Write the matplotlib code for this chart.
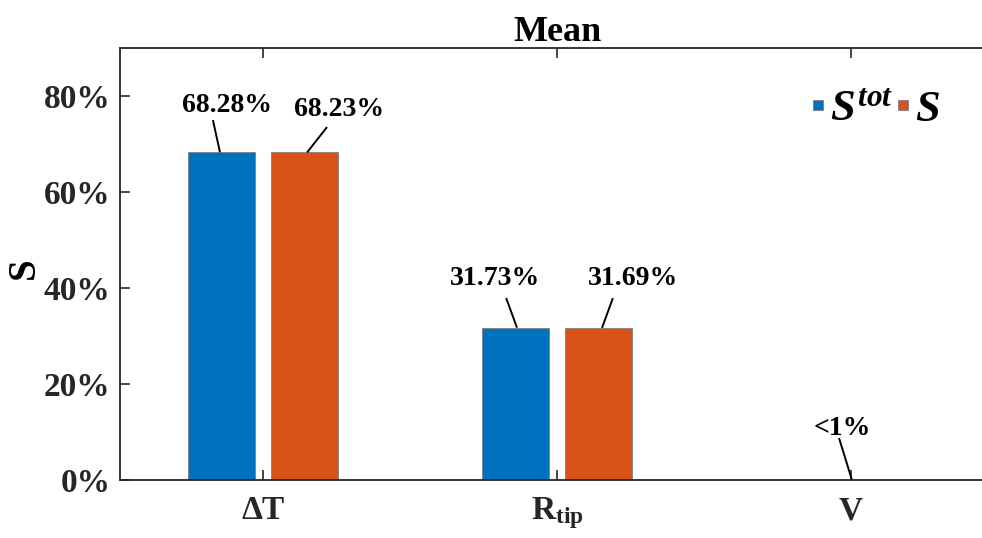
import matplotlib.pyplot as plt
from matplotlib.lines import Line2D
import numpy as np

plt.rcParams['font.family'] = ['Liberation Serif', 'DejaVu Serif']
plt.rcParams['font.weight'] = 'bold'
plt.rcParams['mathtext.fontset'] = 'custom'
plt.rcParams['mathtext.rm'] = 'Liberation Serif:bold'
plt.rcParams['mathtext.it'] = 'Liberation Serif:bold:italic'
plt.rcParams['mathtext.bf'] = 'Liberation Serif:bold'

categories = ['ΔT', r'R$_{\rm tip}$', 'V']
s_tot = [68.28, 31.73, 0.05]
s_first = [68.23, 31.69, 0.04]
labels_tot = ['68.28%', '31.73%', '<1%']
labels_first = ['68.23%', '31.69%', None]

blue = '#0072BD'
orange = '#D95319'
dark = '#262626'

fig = plt.figure(figsize=(9.82, 5.38), dpi=100)
ax = fig.add_axes([120 / 982, 58 / 538, 874 / 982, 432 / 538])

x = np.arange(1, len(categories) + 1)
w = 0.228
off = 0.142
b1 = ax.bar(x - off, s_tot, w, color=blue, edgecolor='#7f7f7f', linewidth=0.6)
b2 = ax.bar(x + off, s_first, w, color=orange, edgecolor='#7f7f7f', linewidth=0.6)

ax.set_xlim(0.514, 3.486)
ax.set_ylim(0, 90)
ax.set_yticks([0, 20, 40, 60, 80])
ax.set_yticklabels(['0%', '20%', '40%', '60%', '80%'])
ax.set_xticks(x)
ax.set_xticklabels(categories)
ax.tick_params(direction='in', length=7, width=1.2, colors=dark, labelsize=24,
               top=True)
ax.tick_params(axis='y', pad=7)
ax.tick_params(axis='x', pad=11)
for lab in ax.get_xticklabels() + ax.get_yticklabels():
    lab.set_fontweight('bold')
    lab.set_color(dark)
for side in ['left', 'top', 'bottom']:
    ax.spines[side].set_color(dark)
    ax.spines[side].set_linewidth(1.3)
ax.spines['right'].set_visible(False)

ax.set_title('Mean', fontsize=26, fontweight='bold', pad=5)
ax.set_ylabel('S', fontsize=28, fontweight='bold')
ax.yaxis.set_label_coords(-0.088, 0.49)

# label text offset (dx, dy), line top offset (dx, dy), line foot dx
ann = [
    (x[0] - off, s_tot[0], labels_tot[0], (0.021, 8.3), (-0.028, 6.7), -0.004),
    (x[0] + off, s_first[0], labels_first[0], (0.117, 7.6), (0.076, 5.3), 0.008),
    (x[1] - off, s_tot[1], labels_tot[1], (-0.069, 8.9), (-0.031, 6.2), 0.006),
    (x[1] + off, s_first[1], labels_first[1], (0.117, 8.9), (0.048, 6.2), 0.011),
    (x[2], 0, labels_tot[2], (-0.029, 9.4), (-0.041, 8.75), 0.003),
]
for bx, by, txt, (tx, ty), (lx, ly), fx in ann:
    ax.text(bx + tx, by + ty, txt, ha='center', va='baseline', fontsize=20,
            fontweight='bold')
    ax.plot([bx + lx, bx + fx], [by + ly, by], color='black', lw=1.4,
            solid_capstyle='butt')

h1 = Line2D([], [], marker='s', ls='none', markersize=7.5, mfc=blue,
            mec='#7f7f7f', mew=0.6)
h2 = Line2D([], [], marker='s', ls='none', markersize=7.5, mfc=orange,
            mec='#7f7f7f', mew=0.6)
leg = ax.legend([h1, h2], [r'$S^{tot}$', r'$S$'], loc='upper right',
                bbox_to_anchor=(0.958, 0.945), ncol=2, frameon=False,
                handlelength=0.3, handletextpad=0.12,
                columnspacing=0.05, borderaxespad=0,
                prop={'size': 32, 'weight': 'bold'})

fig.savefig('out.png', dpi=100)
